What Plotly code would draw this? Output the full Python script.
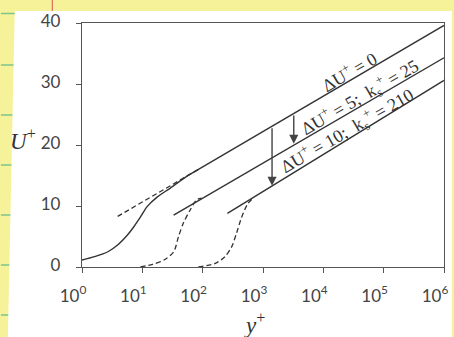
import plotly.graph_objects as go

# ---------------- data ----------------
# smooth-wall profile (solid curve, viscous sublayer -> buffer -> log law)
smooth_yplus = [1.0, 1.62, 2.69, 3.89, 5.62, 7.24, 9.33, 12.0, 17.8, 28.8, 55.0, 72.4]
smooth_uplus = [1.15, 1.7, 2.5, 3.6, 5.2, 6.6, 8.2, 9.9, 11.5, 12.9, 14.9, 15.6]

# log-law lines (solid)
law0_yplus = [72.4, 1.0e6]
law0_uplus = [15.6, 39.6]
law5_yplus = [33.0, 1.0e6]
law5_uplus = [8.5, 34.3]
law10_yplus = [257.0, 1.0e6]
law10_uplus = [8.8, 30.6]

# dashed curves
loglaw_ext_yplus = [3.9, 85.0]
loglaw_ext_uplus = [8.3, 16.0]
rough25_yplus = [9.3, 14.8, 22.9, 33.1, 39.8, 47.9, 61.7, 79.4, 95.5]
rough25_uplus = [0.0, 0.45, 1.15, 2.5, 5.0, 7.2, 9.3, 11.0, 11.3]
rough210_yplus = [85.0, 162.0, 234.0, 302.0, 363.0, 437.0, 562.0, 692.0]
rough210_uplus = [0.0, 0.6, 1.7, 3.3, 5.5, 8.0, 10.4, 11.3]

# arrows (log10 y+, tail U+, head U+)
arrow_logx = [3.51, 3.15]
arrow_tail = [25.1, 23.0]
arrow_head = [20.2, 13.3]

# labels along the lines (log10 y+, U+)
label_texts = [
    "ΔU<sup>+</sup> = 0",
    "ΔU<sup>+</sup> = 5;&nbsp; k<sub>s</sub><sup>+</sup> = 25",
    "ΔU<sup>+</sup> = 10;&nbsp; k<sub>s</sub><sup>+</sup> = 210",
]
label_logx = [4.42, 4.60, 4.40]
label_uplus = [32.1, 27.8, 22.4]

x_tickvals = [1, 10, 100, 1000, 10000, 100000, 1000000]
x_ticktext = ["10<sup>%d</sup>" % i for i in range(7)]
y_tickvals = [0, 10, 20, 30, 40]

# ---------------- figure ----------------
W, H = 454, 337
ML, MR, MT, MB = 82, 6, 23, 70
PW, PH = W - ML - MR, H - MT - MB


def px(X):
    return (X - ML) / PW


def py(Y):
    return (H - MB - Y) / PH


ink = "#333333"
fig = go.Figure()

solid = dict(color=ink, width=1.4)
dashed = dict(color=ink, width=1.3, dash="5px,3px")

fig.add_trace(go.Scatter(x=smooth_yplus, y=smooth_uplus, mode="lines",
                         line=dict(shape="spline", smoothing=0.8, **solid)))
fig.add_trace(go.Scatter(x=law0_yplus, y=law0_uplus, mode="lines", line=solid))
fig.add_trace(go.Scatter(x=law5_yplus, y=law5_uplus, mode="lines", line=solid))
fig.add_trace(go.Scatter(x=law10_yplus, y=law10_uplus, mode="lines", line=solid))
fig.add_trace(go.Scatter(x=loglaw_ext_yplus, y=loglaw_ext_uplus, mode="lines", line=dashed))
fig.add_trace(go.Scatter(x=rough25_yplus, y=rough25_uplus, mode="lines",
                         line=dict(shape="spline", smoothing=0.8, **dashed)))
fig.add_trace(go.Scatter(x=rough210_yplus, y=rough210_uplus, mode="lines",
                         line=dict(shape="spline", smoothing=0.8, **dashed)))

annotations = []
for lx, t, h in zip(arrow_logx, arrow_tail, arrow_head):
    annotations.append(dict(x=lx, y=h, ax=lx, ay=t, xref="x", yref="y",
                            axref="x", ayref="y", text="", showarrow=True,
                            arrowhead=2, arrowsize=1.3, arrowwidth=1.4,
                            arrowcolor="#444"))
for txt, lx, u in zip(label_texts, label_logx, label_uplus):
    annotations.append(dict(x=lx, y=u, xref="x", yref="y", text=txt,
                            showarrow=False, textangle=-30,
                            xanchor="center", yanchor="middle",
                            font=dict(family="Liberation Serif", size=18, color=ink)))
annotations.append(dict(x=px(22), y=py(139), xref="paper", yref="paper",
                        xanchor="center", yanchor="middle",
                        text="<i>U</i><sup>+</sup>", showarrow=False,
                        font=dict(family="Liberation Serif", size=23, color=ink)))
annotations.append(dict(x=px(256), y=py(323), xref="paper", yref="paper",
                        xanchor="center", yanchor="middle",
                        text="<i>y</i><sup>+</sup>", showarrow=False,
                        font=dict(family="Liberation Serif", size=23, color=ink)))

# background: yellow notebook paper with a white card on it
shapes = []
shapes.append(dict(type="line", xref="paper", yref="paper", layer="below",
                   x0=px(0), x1=px(W), y0=py(13.5), y1=py(13.5),
                   line=dict(color="#7cc58a", width=1.5)))
for gy in [65, 115, 165, 215, 265, 315]:
    shapes.append(dict(type="line", xref="paper", yref="paper", layer="below",
                       x0=px(0), x1=px(14), y0=py(gy), y1=py(gy),
                       line=dict(color="#7cc58a", width=1.5)))
shapes.append(dict(type="line", xref="paper", yref="paper", layer="below",
                   x0=px(52), x1=px(52), y0=py(0), y1=py(11),
                   line=dict(color="#e0705a", width=1.2)))
card = "M %f,%f L %f,%f L %f,%f L %f,%f Z" % (
    px(14), py(11), px(W + 2), py(11), px(W + 2), py(H + 2), px(7), py(H + 2))
shapes.append(dict(type="path", path=card, xref="paper", yref="paper",
                   layer="below", fillcolor="white", line=dict(width=0)))

axis_common = dict(showgrid=False, zeroline=False, ticks="outside", ticklen=5,
                   tickwidth=1.3, tickcolor="#555", linecolor="#555",
                   linewidth=1.4, mirror=True,
                   tickfont=dict(family="Lato", size=17, color="#444"))

fig.update_layout(
    width=W, height=H, autosize=False,
    margin=dict(l=ML, r=MR, t=MT, b=MB),
    paper_bgcolor="#f6f29a", plot_bgcolor="white",
    showlegend=False,
    xaxis=dict(type="log", range=[0, 6], tickvals=x_tickvals, ticktext=x_ticktext,
               ticklabelshift=-9, ticklabelstandoff=8, **axis_common),
    yaxis=dict(range=[0, 40], tickvals=y_tickvals, ticklabelstandoff=12,
               ticklabelshift=-2, **axis_common),
    annotations=annotations,
    shapes=shapes,
)

fig.write_html("out.html", config={"displayModeBar": False},
               post_script="document.body.style.margin='0';"
                           "document.body.style.overflow='hidden';")
